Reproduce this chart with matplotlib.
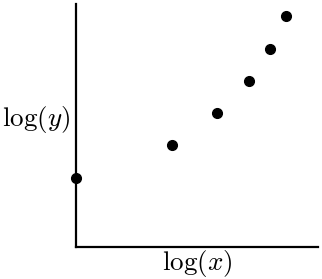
import matplotlib
matplotlib.use("Agg")
from matplotlib import pyplot as plt

plt.rcParams["mathtext.fontset"] = "cm"

# data (log-log scatter)
log_x = [0.0, 0.96, 1.41, 1.73, 1.94, 2.10]
log_y = [0.69, 1.02, 1.34, 1.66, 1.98, 2.31]

fig = plt.figure(figsize=(3.22, 2.79), dpi=100)
ax = fig.add_axes([76 / 322, 32 / 279, 242 / 322, 243 / 279])

ax.plot(log_x, log_y, "o", color="black", markersize=7, clip_on=False)

ax.set_xlim(0, 2.42)
ax.set_ylim(0, 2.43)

# only left and bottom axes
ax.spines["top"].set_visible(False)
ax.spines["right"].set_visible(False)
ax.spines["left"].set_linewidth(1.6)
ax.spines["bottom"].set_linewidth(1.6)
ax.set_xticks([])
ax.set_yticks([])

ax.set_xlabel(r"$\log(x)$", fontsize=19.5, labelpad=1)
ax.text(-0.025, 0.525, r"$\log(y)$", fontsize=19.5, ha="right", va="center",
        transform=ax.transAxes)

fig.savefig("out.png", dpi=100)
